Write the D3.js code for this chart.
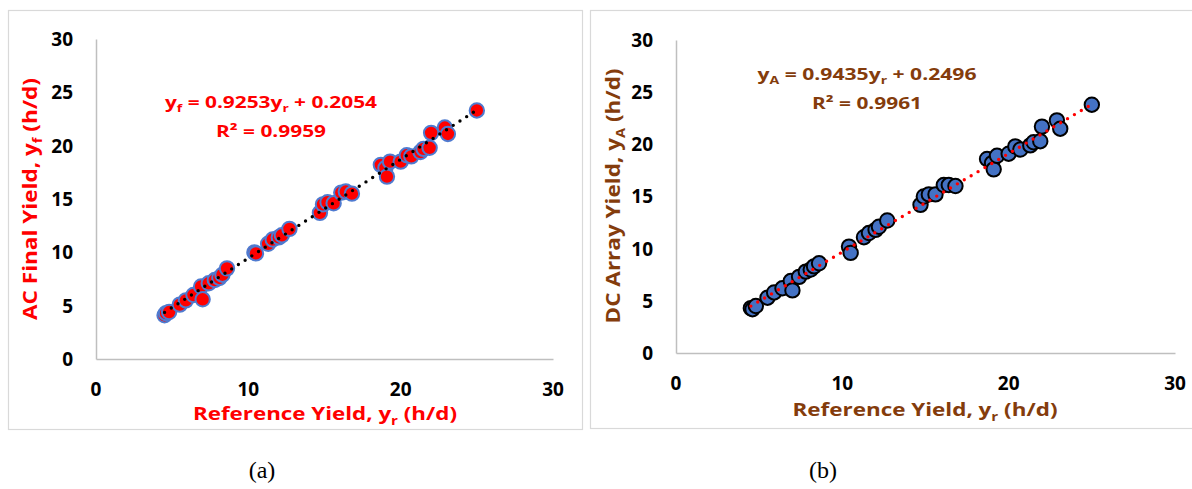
<!DOCTYPE html>
<html>
<head>
<meta charset="utf-8">
<script src="https://cdn.jsdelivr.net/npm/d3@7"></script>
<style>
  html, body { margin: 0; padding: 0; background: #fff; }
  svg { display: block; }
</style>
</head>
<body>
<svg id="chart" width="1192" height="489"></svg>
<script>
// Reference yield (h/d) for each test day
const refYield = [4.5, 4.6, 4.8, 5.5, 5.9, 6.4, 6.9, 7.0, 7.4, 7.8, 8.1, 8.3, 8.6, 10.4, 10.5, 11.3, 11.6, 12.0, 12.2, 12.7,
  14.7, 14.9, 15.2, 15.6, 16.1, 16.4, 16.8, 18.7, 19.0, 19.1, 19.3, 20.0, 20.4, 20.7, 21.3, 21.5, 21.9, 22.0, 22.9, 23.1, 25.0];
// AC final yield (h/d)
const acYield = [4.1, 4.3, 4.4, 5.1, 5.5, 6.0, 6.8, 5.6, 7.1, 7.4, 7.6, 7.9, 8.5, 10.0, 9.9, 10.8, 11.2, 11.4, 11.6, 12.2,
  13.7, 14.5, 14.7, 14.6, 15.6, 15.7, 15.5, 18.2, 17.9, 17.1, 18.5, 18.5, 19.1, 19.0, 19.4, 19.7, 19.8, 21.2, 21.7, 21.1, 23.3];
// DC array yield (h/d)
const dcYield = [4.3, 4.2, 4.5, 5.3, 5.8, 6.2, 6.9, 6.0, 7.3, 7.8, 8.0, 8.3, 8.6, 10.2, 9.6, 11.1, 11.5, 11.8, 12.1, 12.7,
  14.2, 15.0, 15.2, 15.2, 16.1, 16.1, 16.0, 18.6, 18.2, 17.6, 18.9, 19.1, 19.8, 19.5, 19.9, 20.2, 20.3, 21.7, 22.3, 21.5, 23.8];

// Linear fits: [slope, intercept, R²]
const acFit = [0.9253, 0.2054, 0.9959];
const dcFit = [0.9435, 0.2496, 0.9961];

const axisTicks = [0, 10, 20, 30];
const yTicks = [0, 5, 10, 15, 20, 25, 30];
const panelCaptions = ["(a)", "(b)"];

const svg = d3.select("#chart");
const FONT = "'Open Sans', 'Liberation Sans', sans-serif";

const panels = [
  {
    box: [8, 10, 574, 419],
    xRange: [96, 553], yRange: [359, 39],
    y: acYield, fit: acFit, sub: "f",
    color: "#FF0000",
    markFill: "#FF0000", markStroke: "#4F7BD0",
    lineColor: "#000000",
    yTitle: "AC Final Yield, ",
    yTitleX: 30, yTitleY: 199, yTitleLen: 242,
    xTitleX: 325, xTitleY: 420, xTitleLen: 264,
    eqX: 271, eqY: 108, eqLen: 212, r2Y: 137, r2Len: 110,
    xTickY: 396, yLabelX: 73,
    capX: 262
  },
  {
    box: [590, 10, 640, 418],
    xRange: [676, 1175], yRange: [353, 40],
    y: dcYield, fit: dcFit, sub: "A",
    color: "#843C0C",
    markFill: "#4472C4", markStroke: "#000000",
    lineColor: "#FF0000",
    yTitle: "DC Array Yield, ",
    yTitleX: 613, yTitleY: 196, yTitleLen: 255,
    xTitleX: 925, xTitleY: 416, xTitleLen: 265,
    eqX: 867, eqY: 80, eqLen: 219, r2Y: 109, r2Len: 110,
    xTickY: 390, yLabelX: 653,
    capX: 823
  }
];

panels.forEach((p, i) => {
  const g = svg.append("g");

  // panel frame
  g.append("rect")
    .attr("x", p.box[0] + 0.5).attr("y", p.box[1] + 0.5)
    .attr("width", p.box[2]).attr("height", p.box[3])
    .attr("fill", "none").attr("stroke", "#D9D9D9").attr("stroke-width", 1.2);

  const x = d3.scaleLinear().domain([0, 30]).range(p.xRange);
  const y = d3.scaleLinear().domain([0, 30]).range(p.yRange);

  // axes: plain gray lines, no tick marks
  const xAxis = g.append("g")
    .attr("transform", `translate(0,${p.yRange[0]})`)
    .call(d3.axisBottom(x).tickValues(axisTicks).tickSize(0).tickPadding(0).tickFormat(d3.format("d")));
  xAxis.select(".domain").attr("stroke", "#BFBFBF").attr("stroke-width", 1.5);
  xAxis.selectAll("text").remove();

  const yAxis = g.append("g")
    .attr("transform", `translate(${p.xRange[0]},0)`)
    .call(d3.axisLeft(y).tickValues(yTicks).tickSize(0).tickPadding(0).tickFormat(d3.format("d")));
  yAxis.select(".domain").attr("stroke", "#BFBFBF").attr("stroke-width", 1.5);
  yAxis.selectAll("text").remove();

  // tick labels
  g.selectAll(".xt").data(axisTicks).join("text")
    .attr("x", d => x(d)).attr("y", p.xTickY)
    .attr("text-anchor", "middle")
    .attr("font-family", FONT).attr("font-weight", 700).attr("font-size", 19)
    .attr("fill", "#000").text(d => d);

  g.selectAll(".yt").data(yTicks).join("text")
    .attr("x", p.yLabelX).attr("y", d => y(d))
    .attr("dy", "0.36em")
    .attr("text-anchor", "end")
    .attr("font-family", FONT).attr("font-weight", 700).attr("font-size", 19)
    .attr("fill", "#000").text(d => d);

  // markers
  g.selectAll("circle.pt").data(refYield.map((v, k) => [v, p.y[k]])).join("circle")
    .attr("class", "pt")
    .attr("cx", d => x(d[0])).attr("cy", d => y(d[1]))
    .attr("r", 7.2)
    .attr("fill", p.markFill)
    .attr("stroke", p.markStroke).attr("stroke-width", 2);

  // dotted trendline
  const [m, b] = p.fit;
  const x0 = d3.min(refYield), x1 = d3.max(refYield);
  g.append("line")
    .attr("x1", x(x0)).attr("y1", y(m * x0 + b))
    .attr("x2", x(x1)).attr("y2", y(m * x1 + b))
    .attr("stroke", p.lineColor).attr("stroke-width", 3.4)
    .attr("stroke-linecap", "round").attr("stroke-dasharray", "0 8");

  // y axis title
  const yt = g.append("text")
    .attr("transform", `translate(${p.yTitleX},${p.yTitleY}) rotate(-90)`)
    .attr("text-anchor", "middle").attr("dy", "0.35em")
    .attr("font-family", FONT).attr("font-weight", 700).attr("font-size", 20)
    .attr("fill", p.color)
    .attr("textLength", p.yTitleLen).attr("lengthAdjust", "spacingAndGlyphs");
  yt.append("tspan").text(p.yTitle + "y");
  yt.append("tspan").attr("font-size", 13).attr("dy", 5).text(p.sub);
  yt.append("tspan").attr("dy", -5).text(" (h/d)");

  // x axis title
  const xt = g.append("text")
    .attr("x", p.xTitleX).attr("y", p.xTitleY)
    .attr("text-anchor", "middle")
    .attr("font-family", FONT).attr("font-weight", 700).attr("font-size", 18.5)
    .attr("fill", p.color)
    .attr("textLength", p.xTitleLen).attr("lengthAdjust", "spacingAndGlyphs");
  xt.append("tspan").text("Reference Yield, y");
  xt.append("tspan").attr("font-size", 12.5).attr("dy", 5).text("r");
  xt.append("tspan").attr("dy", -5).text(" (h/d)");

  // regression equation
  const eq = g.append("text")
    .attr("x", p.eqX).attr("y", p.eqY)
    .attr("text-anchor", "middle")
    .attr("font-family", FONT).attr("font-weight", 700).attr("font-size", 16.5)
    .attr("fill", p.color)
    .attr("textLength", p.eqLen).attr("lengthAdjust", "spacingAndGlyphs");
  eq.append("tspan").text("y");
  eq.append("tspan").attr("font-size", 11).attr("dy", 4).text(p.sub);
  eq.append("tspan").attr("dy", -4).text(` = ${m.toFixed(4)}y`);
  eq.append("tspan").attr("font-size", 11).attr("dy", 4).text("r");
  eq.append("tspan").attr("dy", -4).text(` + ${b.toFixed(4)}`);

  g.append("text")
    .attr("x", p.eqX).attr("y", p.r2Y)
    .attr("text-anchor", "middle")
    .attr("font-family", FONT).attr("font-weight", 700).attr("font-size", 16.5)
    .attr("fill", p.color)
    .attr("textLength", p.r2Len).attr("lengthAdjust", "spacingAndGlyphs")
    .text(`R² = ${p.fit[2].toFixed(4)}`);

  // panel caption
  svg.append("text")
    .attr("x", p.capX).attr("y", 478)
    .attr("text-anchor", "middle")
    .attr("font-family", "'Liberation Serif', 'DejaVu Serif', serif")
    .attr("font-size", 24).attr("fill", "#000")
    .text(panelCaptions[i]);
});
</script>
</body>
</html>
